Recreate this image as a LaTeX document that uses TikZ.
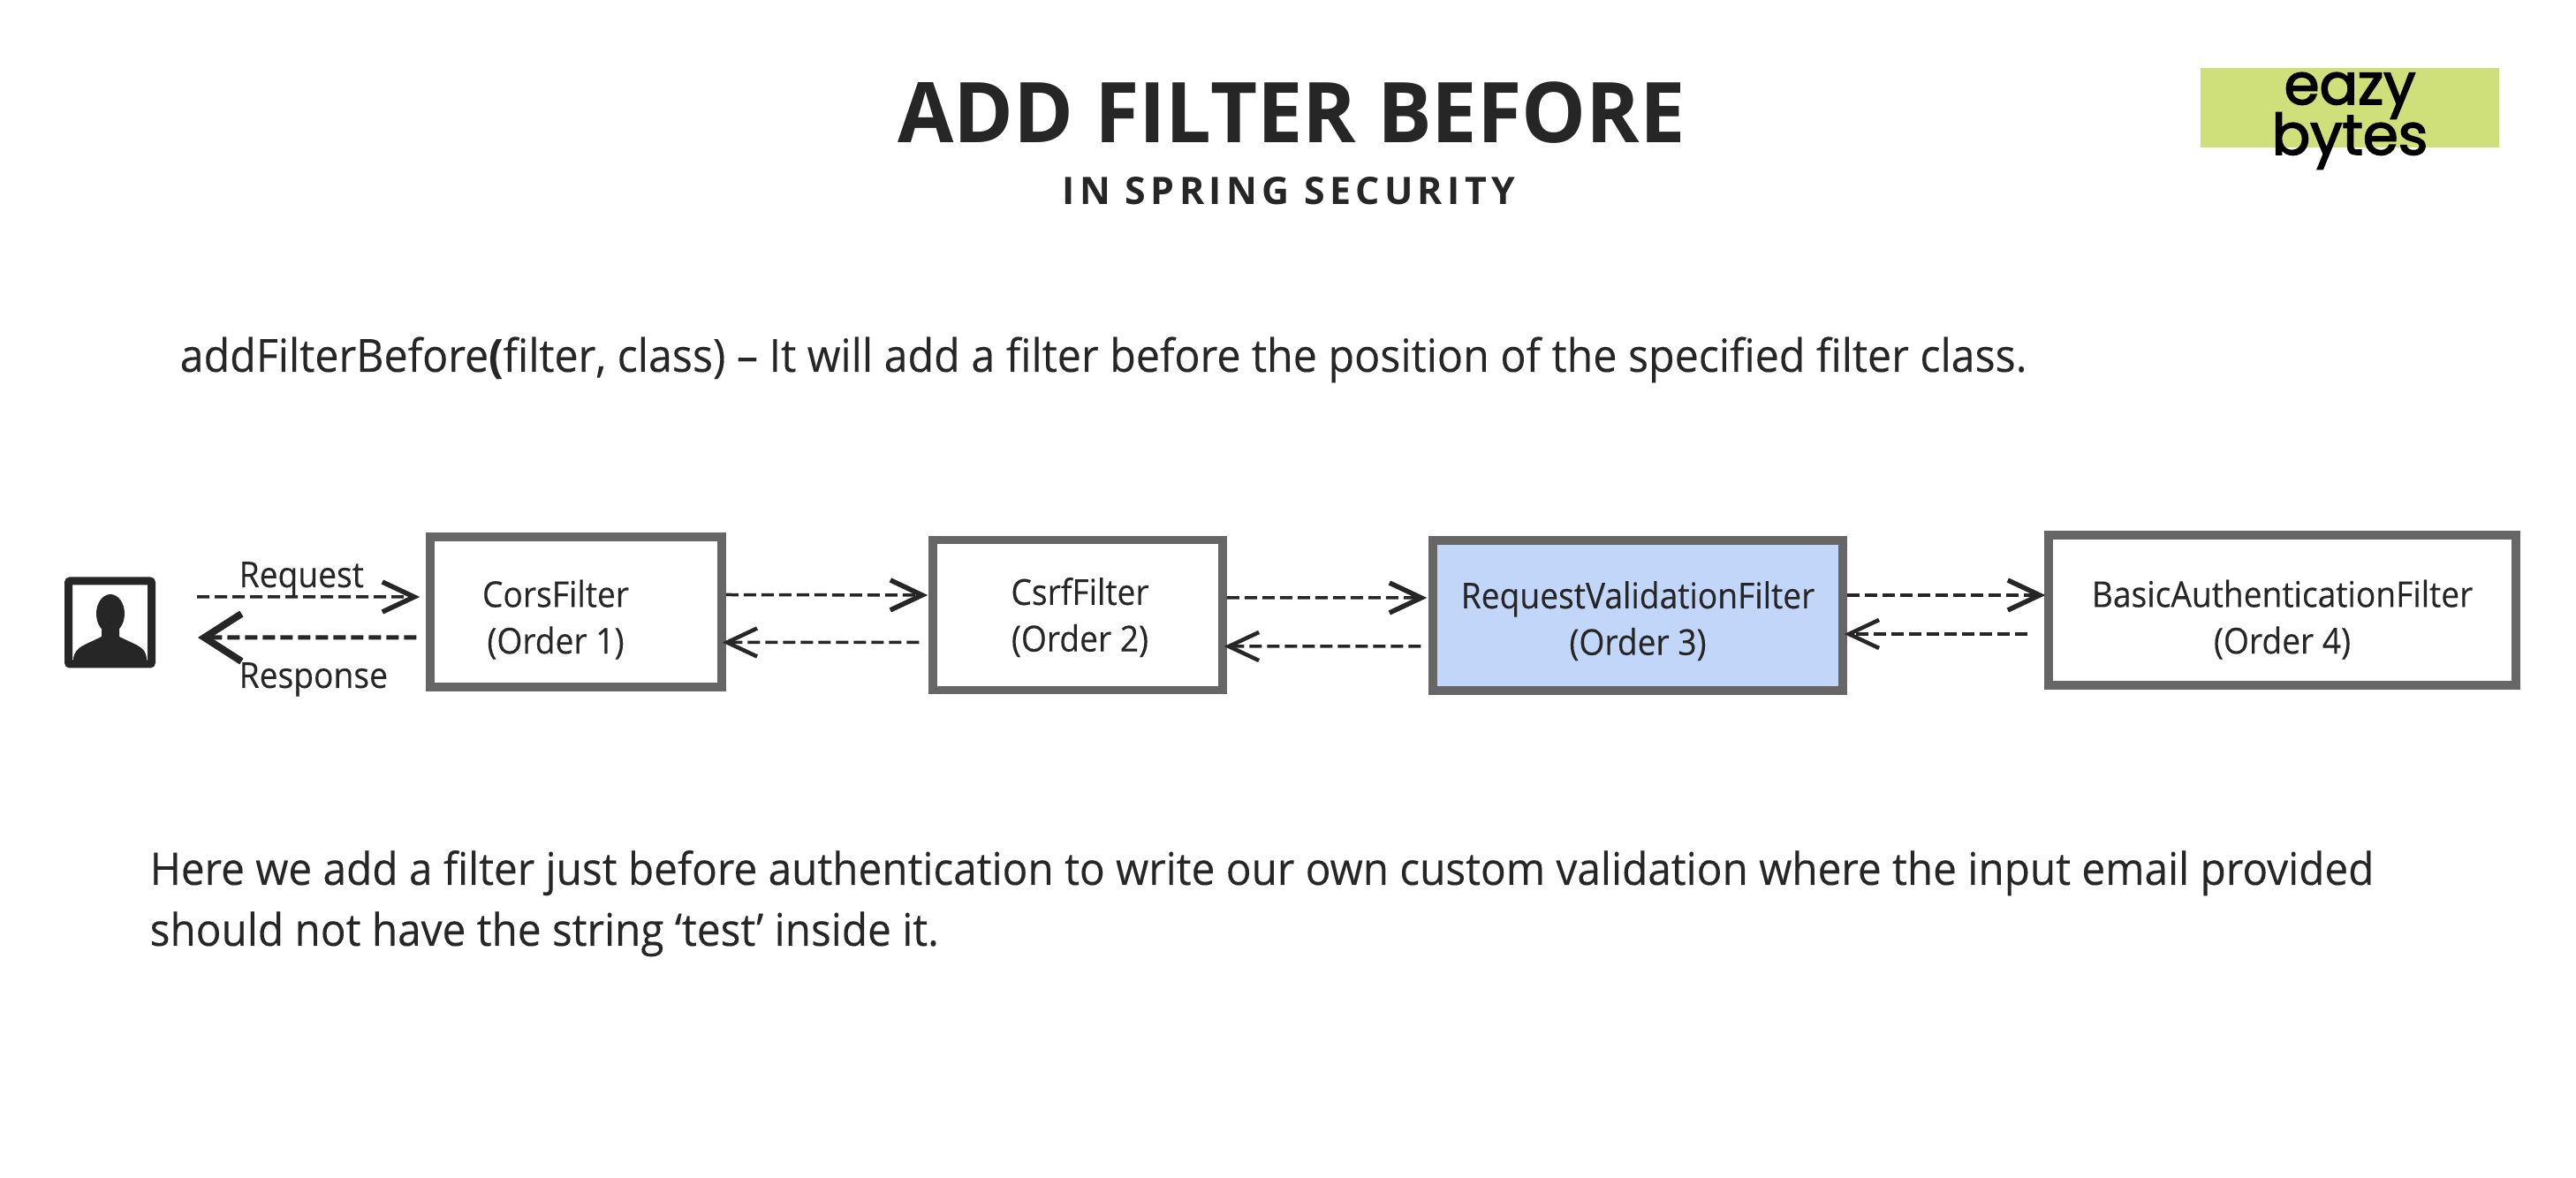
\documentclass[tikz,border=0pt]{standalone}
\usepackage{fontspec}
\setmainfont{Open Sans}
\newfontfamily\logofont[FakeBold=2.5]{Poppins}
\newfontfamily\bodyfont[FakeStretch=0.936,FakeBold=0.2]{Open Sans}
\newfontfamily\filterfont[FakeStretch=0.92,FakeBold=0.2]{Open Sans}
\usetikzlibrary{arrows.meta, positioning}
\definecolor{inkdark}{HTML}{262626}
\definecolor{boxgray}{HTML}{666666}
\definecolor{boxblue}{HTML}{C2D6F9}
\definecolor{logogreen}{HTML}{CFE07A}
\tikzset{
    filterbox/.style={draw=boxgray, line width=0.095cm, fill=white, text=inkdark, align=center, font=\filterfont\fontsize{11.5}{15}\selectfont, minimum height=1.70cm},
    flowline/.style={draw=inkdark, line width=0.035cm, dash pattern=on 0.14cm off 0.06cm, -{Straight Barb[length=0.36cm,width=0.34cm,line width=0.055cm]}},
    backline/.style={flowline, -{Straight Barb[length=0.34cm,width=0.32cm,line width=0.045cm]}},
    bodytext/.style={anchor=base west, text=inkdark, inner sep=0pt, font=\bodyfont\fontsize{14.5}{19.6}\selectfont},
    flowlabel/.style={anchor=base west, inner sep=0pt, text=inkdark, font=\filterfont\fontsize{11.5}{13}\selectfont},
    logotext/.style={anchor=base, inner sep=0pt, font=\logofont\fontsize{18.3}{20}\selectfont}
}
\begin{document}
\begin{tikzpicture}
    \useasboundingbox (0,0) rectangle (29.16,13.34);
    % heading and logo
    \node[anchor=base, text=inkdark, inner sep=0pt, font=\fontsize{27}{30}\bfseries\selectfont\addfontfeature{FakeStretch=0.968}] (title) at (14.62,11.72) {ADD FILTER BEFORE};
    \node[anchor=base, text=inkdark, inner sep=0pt, font=\fontsize{12.2}{14}\bfseries\selectfont\addfontfeature{LetterSpace=12.5}] (subtitle) at (14.59,11.02) {IN SPRING SECURITY};
    \node[fill=logogreen, minimum width=3.38cm, minimum height=0.90cm, inner sep=0pt] (logo) at (26.60,12.12) {};
    \node[logotext] (logoeazy) at (26.60,12.16) {eazy};
    \node[logotext] (logobytes) at (26.60,11.59) {bytes};

    \node[bodytext, font=\bodyfont\fontsize{14.7}{19.6}\selectfont] (intro) at (2.03,9.13) {addFilterBefore\textbf{(}filter, class) – It will add a filter before the position of the specified filter class.};

    % user icon
    \node[draw=inkdark, line width=0.09cm, rounded corners=0.02cm, fill=white, minimum width=0.94cm, minimum height=0.94cm, inner sep=0pt] (userbox) at (1.245,6.29) {};
    \fill[inkdark] (0.83,5.89) rectangle (1.66,5.83);
    \fill[inkdark] (1.25,6.39) ellipse (0.16 and 0.22);
    \fill[inkdark] (0.83,5.89) .. controls (0.86,6.02) and (0.95,6.03) .. (1.15,6.13) -- (1.15,6.30) -- (1.35,6.30) -- (1.35,6.13) .. controls (1.55,6.03) and (1.64,6.02) .. (1.66,5.89) -- cycle;

    % filter chain
    \node[filterbox, minimum width=3.30cm] (corsbox) at (6.52,6.41) {\rule{0pt}{0.48cm}CorsFilter\hspace*{0.46cm}\\(Order 1)\hspace*{0.46cm}};
    \node[filterbox, minimum width=3.28cm] (csrfbox) at (12.20,6.375) {\rule{0pt}{0.36cm}\hspace*{0.05cm}CsrfFilter\\\hspace*{0.05cm}(Order 2)};
    \node[filterbox, fill=boxblue, minimum width=4.64cm] (validbox) at (18.54,6.37) {\rule{0pt}{0.43cm}RequestValidationFilter\\(Order 3)};
    \node[filterbox, minimum width=5.29cm] (basicbox) at (25.835,6.43) {\rule{0pt}{0.52cm}BasicAuthenticationFilter\\(Order 4)};

    \draw[flowline, shorten <=0.47cm, shorten >=0.07cm] ([yshift=0.29cm]userbox.east) -- ([yshift=0.17cm]corsbox.west);
    \draw[flowline, line width=0.05cm, shorten <=0.11cm, shorten >=0.48cm, -{Straight Barb[length=0.42cm,width=0.54cm,line width=0.08cm]}] ([yshift=-0.29cm]corsbox.west) -- ([yshift=-0.17cm]userbox.east);
    \node[flowlabel] (requestlabel) at (2.70,6.69) {Request};
    \node[flowlabel] (responselabel) at (2.70,5.55) {Response};

    \draw[flowline, shorten >=0.01cm] ([yshift=0.195cm]corsbox.east) -- ([yshift=0.225cm]csrfbox.west);
    \draw[backline, shorten <=0.11cm, shorten >=-0.04cm] ([yshift=-0.31cm]csrfbox.west) -- ([yshift=-0.345cm]corsbox.east);
    \draw[flowline, shorten >=0.02cm] ([yshift=0.195cm]csrfbox.east) -- ([yshift=0.20cm]validbox.west);
    \draw[backline, shorten <=0.09cm, shorten >=-0.03cm] ([yshift=-0.35cm]validbox.west) -- ([yshift=-0.355cm]csrfbox.east);
    \draw[flowline, shorten >=-0.01cm] ([yshift=0.23cm]validbox.east) -- ([yshift=0.17cm]basicbox.west);
    \draw[backline, shorten <=0.19cm, shorten >=-0.03cm] ([yshift=-0.27cm]basicbox.west) -- ([yshift=-0.21cm]validbox.east);

    \node[bodytext] (notefirst) at (1.69,3.32) {Here we add a filter just before authentication to write our own custom validation where the input email provided};
    \node[bodytext] (notesecond) at (1.69,2.63) {should not have the string ‘test’ inside it.};
\end{tikzpicture}
\end{document}
